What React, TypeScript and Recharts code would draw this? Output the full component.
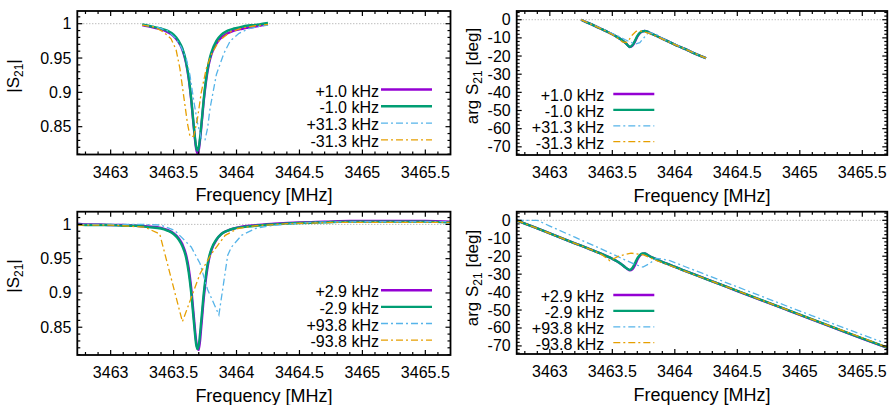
import React from "react"
import { LineChart, Line, XAxis, YAxis, ReferenceLine } from "recharts"

const FONT = "'Liberation Sans', Arial, Helvetica, sans-serif"

const INK = "#000000"
const PURPLE = "#9400d3"
const GREEN = "#009e73"
const BLUE = "#56b4e9"
const ORANGE = "#e69f00"
const GRID = "#a0a0a0"
const DASHDOT = "7 3 2 3"

// axes
const freqDomain = [3462.735, 3465.7]
const freqMajorTicks = [3463, 3463.5, 3464, 3464.5, 3465, 3465.5]
const magDomain = [0.8095, 1.0185]
const magMajorTicks = [0.85, 0.9, 0.95, 1]
const phaseDomain = [-74.5, 4.8]
const phaseMajorTicks = [-70, -60, -50, -40, -30, -20, -10, 0]

const topLabels = ["+1.0 kHz", "-1.0 kHz", "+31.3 kHz", "-31.3 kHz"]
const bottomLabels = ["+2.9 kHz", "-2.9 kHz", "+93.8 kHz", "-93.8 kHz"]

// ---- top row: narrow sweep ----
const freqTopSolid = [3463.25, 3463.3, 3463.35, 3463.4, 3463.45, 3463.5, 3463.54, 3463.57, 3463.6, 3463.62, 3463.64, 3463.66, 3463.68, 3463.69, 3463.7, 3463.72, 3463.74, 3463.76, 3463.78, 3463.8, 3463.84, 3463.88, 3463.93, 3463.98, 3464.03, 3464.08, 3464.13, 3464.18, 3464.25]
const magTopPlus1 = [0.998, 0.996, 0.994, 0.992, 0.988, 0.982, 0.973, 0.962, 0.942, 0.92, 0.889, 0.85, 0.817, 0.811, 0.816, 0.849, 0.888, 0.919, 0.941, 0.955, 0.971, 0.98, 0.986, 0.99, 0.992, 0.994, 0.995, 0.997, 0.999]
const magTopMinus1 = [0.999, 0.997, 0.995, 0.993, 0.99, 0.984, 0.975, 0.964, 0.944, 0.922, 0.891, 0.852, 0.82, 0.815, 0.82, 0.852, 0.891, 0.922, 0.944, 0.958, 0.975, 0.984, 0.99, 0.993, 0.995, 0.997, 0.998, 0.999, 1.001]
const phaseTopPlus1 = [0, -1.6, -3.1, -4.7, -6.3, -8.0, -9.6, -10.9, -12.5, -13.8, -15.0, -14.4, -12.2, -10.8, -9.4, -7.4, -6.5, -6.2, -6.6, -7.2, -8.5, -9.8, -11.4, -13.0, -14.6, -16.1, -17.7, -19.2, -21.2]
const phaseTopMinus1 = [0, -1.6, -3.1, -4.7, -6.3, -8.0, -9.6, -10.9, -12.5, -13.8, -15.0, -14.1, -11.8, -10.3, -9.0, -7.2, -6.4, -6.2, -6.6, -7.2, -8.5, -9.8, -11.4, -13.0, -14.6, -16.1, -17.7, -19.2, -21.2]

const freqTopPlus31 = [3463.25, 3463.35, 3463.45, 3463.52, 3463.56, 3463.6, 3463.63, 3463.66, 3463.69, 3463.72, 3463.75, 3463.77, 3463.79, 3463.84, 3463.9, 3463.95, 3464.02, 3464.1, 3464.18, 3464.25]
const magTopPlus31 = [0.998, 0.996, 0.99, 0.978, 0.966, 0.95, 0.925, 0.888, 0.855, 0.833, 0.831, 0.848, 0.877, 0.926, 0.957, 0.975, 0.986, 0.993, 0.996, 0.998]
const phaseTopPlus31 = [0, -3.0, -6.0, -8.2, -9.5, -10.9, -11.9, -12.8, -13.3, -12.6, -10.2, -8.4, -7.2, -7.6, -10.3, -11.9, -14.1, -16.6, -19.1, -21.2]

const freqTopMinus31 = [3463.25, 3463.35, 3463.42, 3463.48, 3463.52, 3463.55, 3463.58, 3463.61, 3463.63, 3463.66, 3463.69, 3463.72, 3463.76, 3463.8, 3463.86, 3463.95, 3464.05, 3464.15, 3464.25]
const magTopMinus31 = [0.998, 0.995, 0.988, 0.978, 0.962, 0.935, 0.895, 0.855, 0.836, 0.836, 0.862, 0.9, 0.935, 0.955, 0.975, 0.988, 0.994, 0.997, 0.999]
const phaseTopMinus31 = [0, -3.1, -5.3, -7.4, -9.0, -10.5, -12.2, -12.6, -11.4, -8.4, -6.4, -6.1, -6.8, -7.6, -9.3, -12.2, -15.2, -18.2, -21.2]

// ---- bottom row: wide sweep ----
const freqBotSolid = [3462.735, 3462.8, 3462.9, 3463.0, 3463.1, 3463.2, 3463.3, 3463.4, 3463.45, 3463.5, 3463.54, 3463.57, 3463.6, 3463.62, 3463.64, 3463.66, 3463.68, 3463.69, 3463.7, 3463.72, 3463.74, 3463.76, 3463.78, 3463.8, 3463.84, 3463.88, 3463.93, 3463.98, 3464.05, 3464.15, 3464.3, 3464.5, 3464.7, 3464.9, 3465.1, 3465.3, 3465.5, 3465.7]
const magBotPlus29 = [1.001, 1.0, 1.0, 0.999, 0.999, 0.998, 0.997, 0.995, 0.992, 0.987, 0.98, 0.971, 0.955, 0.936, 0.907, 0.867, 0.829, 0.819, 0.817, 0.851, 0.893, 0.925, 0.948, 0.962, 0.977, 0.986, 0.991, 0.994, 0.997, 0.999, 1.001, 1.003, 1.004, 1.005, 1.005, 1.005, 1.005, 1.004]
const magBotMinus29 = [1.0, 0.999, 0.999, 0.999, 0.998, 0.998, 0.996, 0.994, 0.991, 0.986, 0.978, 0.968, 0.951, 0.93, 0.9, 0.86, 0.824, 0.818, 0.824, 0.86, 0.9, 0.93, 0.951, 0.964, 0.978, 0.986, 0.991, 0.994, 0.996, 0.998, 1.0, 1.002, 1.003, 1.004, 1.004, 1.004, 1.004, 1.003]
const phaseBotPlus29 = [0, -1.8, -4.5, -7.3, -10.0, -12.8, -15.5, -18.3, -19.8, -21.4, -22.9, -24.3, -26.0, -27.1, -27.9, -27.3, -25.2, -23.6, -22.0, -19.8, -18.7, -18.5, -19.2, -20.0, -21.3, -22.6, -24.0, -25.4, -27.3, -30.0, -34.0, -39.4, -44.7, -50.0, -55.3, -60.6, -65.9, -71.1]
const phaseBotMinus29 = [0, -1.8, -4.5, -7.3, -10.0, -12.8, -15.5, -18.3, -19.8, -21.4, -22.9, -24.3, -26.0, -27.0, -27.6, -26.6, -24.0, -22.6, -21.2, -19.4, -18.5, -18.5, -19.2, -20.0, -21.3, -22.6, -24.0, -25.4, -27.3, -30.0, -34.0, -39.3, -44.6, -49.9, -55.2, -60.5, -65.8, -71.0]

const freqBotMagPlus94 = [3462.735, 3463.0, 3463.25, 3463.4, 3463.51, 3463.64, 3463.71, 3463.77, 3463.86, 3463.93, 3463.96, 3464.04, 3464.15, 3464.3, 3464.6, 3465.0, 3465.4, 3465.7]
const magBotPlus94 = [1.0, 1.0, 1.0, 0.999, 0.991, 0.967, 0.943, 0.905, 0.868, 0.955, 0.967, 0.984, 0.994, 0.999, 1.003, 1.004, 1.004, 1.004]
const freqBotMagMinus94 = [3462.735, 3463.0, 3463.27, 3463.39, 3463.57, 3463.71, 3463.8, 3463.91, 3464.01, 3464.15, 3464.4, 3464.8, 3465.2, 3465.7]
const magBotMinus94 = [0.999, 0.999, 0.996, 0.986, 0.858, 0.928, 0.957, 0.984, 0.994, 0.998, 1.001, 1.003, 1.003, 1.003]

const freqBotPhasePlus94 = [3462.735, 3462.9, 3463.0, 3463.2, 3463.4, 3463.5, 3463.6, 3463.68, 3463.745, 3463.8, 3463.85, 3463.9, 3463.96, 3464.1, 3464.3, 3464.5, 3464.7, 3464.9, 3465.1, 3465.3, 3465.5, 3465.65]
const phaseBotPlus94 = [0, 0, -3.2, -9.4, -15.6, -18.8, -22.0, -24.5, -26.1, -24.0, -21.2, -21.6, -22.5, -26.3, -31.7, -37.1, -42.5, -47.9, -53.2, -58.5, -63.8, -67.6]
const freqBotPhaseMinus94 = [3462.735, 3463.0, 3463.2, 3463.35, 3463.42, 3463.48, 3463.55, 3463.65, 3463.75, 3463.85, 3463.95, 3464.1, 3464.3, 3464.7, 3465.1, 3465.5, 3465.7]
const phaseBotMinus94 = [0, -7.3, -12.8, -16.9, -19.3, -22.5, -20.0, -18.3, -19.3, -22.3, -24.9, -28.8, -34.0, -44.6, -55.2, -65.5, -70.8]

const pts = (xs: number[], ys: number[]) => xs.map((x, i) => ({ x, y: ys[i] }))

const stepTicks = (lo: number, hi: number, step: number) => {
  const out: number[] = []
  for (let k = Math.ceil(lo / step + 1e-9); k * step < hi - 1e-9; k++) {
    out.push(Math.round(k * step * 1000) / 1000)
  }
  return out
}
const isMajor = (v: number, majors: number[]) => majors.some((m) => Math.abs(m - v) < 1e-6)

const MAJOR = 5
const MINOR = 3
const TICK_STROKE = 1.2
const FRAME_STROKE = 1.8

function BottomLabel({ x, y, payload }: any) {
  if (!isMajor(payload.value, freqMajorTicks)) return <g />
  return (
    <text x={x} y={y + 23} textAnchor="middle" fontFamily={FONT} fontSize={16} fill={INK}>
      {payload.value}
    </text>
  )
}

function LeftLabel({ x, y, payload, majors }: any) {
  if (!isMajor(payload.value, majors)) return <g />
  return (
    <text x={x - 6} y={y + 5.5} textAnchor="end" fontFamily={FONT} fontSize={16} fill={INK}>
      {payload.value}
    </text>
  )
}

type Series = { name: string; color: string; dashed: boolean; points: { x: number; y: number }[] }

interface PanelProps {
  left: number
  top: number
  width: number
  height: number
  plot: { left: number; right: number; top: number; bottom: number }
  yDomain: number[]
  yMajor: number[]
  yStep: number
  refY: number
  series: Series[]
  yTitle: { pre: string; post: string; x: number; y: number }
  legend: { textRight: number; x1: number; x2: number; y0: number; dy: number }
}

function Panel({ left, top, width, height, plot, yDomain, yMajor, yStep, refY, series, yTitle, legend }: PanelProps) {
  const xTicks = stepTicks(freqDomain[0], freqDomain[1], 0.1)
  const yTicks = stepTicks(yDomain[0], yDomain[1], yStep)
  const [x0, x1] = freqDomain
  const [y0, y1] = yDomain
  // same linear mapping as the chart's plot box, used for the frame's tick marks
  const px = (v: number) => plot.left + ((v - x0) / (x1 - x0)) * (plot.right - plot.left)
  const py = (v: number) => plot.bottom - ((v - y0) / (y1 - y0)) * (plot.bottom - plot.top)

  return (
    <div style={{ position: "absolute", left, top, width, height }}>
      <LineChart
        width={width}
        height={height}
        margin={{ top: plot.top, right: width - plot.right, bottom: 0, left: 0 }}
      >
        <XAxis
          type="number"
          dataKey="x"
          domain={freqDomain}
          allowDataOverflow
          ticks={xTicks}
          interval={0}
          height={height - plot.bottom}
          tickSize={0}
          tickMargin={0}
          tickLine={false}
          axisLine={false}
          tick={(p: any) => <BottomLabel {...p} />}
        />
        <YAxis
          type="number"
          domain={yDomain}
          allowDataOverflow
          ticks={yTicks}
          interval={0}
          width={plot.left}
          tickSize={0}
          tickMargin={0}
          tickLine={false}
          axisLine={false}
          tick={(p: any) => <LeftLabel {...p} majors={yMajor} />}
        />
        <ReferenceLine y={refY} stroke={GRID} strokeWidth={1} strokeDasharray="1 2" ifOverflow="visible" />
        {series.map((s) => (
          <Line
            key={s.name}
            data={s.points}
            dataKey="y"
            type={s.dashed ? "linear" : "monotone"}
            stroke={s.color}
            strokeWidth={s.dashed ? 1.3 : 2.4}
            strokeDasharray={s.dashed ? DASHDOT : undefined}
            dot={false}
            activeDot={false}
            isAnimationActive={false}
          />
        ))}
      </LineChart>
      <svg
        width={width}
        height={height}
        style={{ position: "absolute", left: 0, top: 0, overflow: "visible", pointerEvents: "none" }}
        fontFamily={FONT}
      >
        {/* frame with inward ticks on all four sides */}
        <g stroke={INK} strokeWidth={TICK_STROKE}>
          {xTicks.map((t) => {
            const len = isMajor(t, freqMajorTicks) ? MAJOR : MINOR
            const x = px(t)
            return (
              <g key={`x${t}`}>
                <line x1={x} x2={x} y1={plot.bottom} y2={plot.bottom - len} />
                <line x1={x} x2={x} y1={plot.top} y2={plot.top + len} />
              </g>
            )
          })}
          {yTicks.map((t) => {
            const len = isMajor(t, yMajor) ? MAJOR : MINOR
            const y = py(t)
            return (
              <g key={`y${t}`}>
                <line x1={plot.left} x2={plot.left + len} y1={y} y2={y} />
                <line x1={plot.right} x2={plot.right - len} y1={y} y2={y} />
              </g>
            )
          })}
        </g>
        <rect
          x={plot.left}
          y={plot.top}
          width={plot.right - plot.left}
          height={plot.bottom - plot.top}
          fill="none"
          stroke={INK}
          strokeWidth={FRAME_STROKE}
        />
        <text x={(plot.left + plot.right) / 2} y={plot.bottom + 46.5} textAnchor="middle" fontSize={18} fill={INK}>
          Frequency [MHz]
        </text>
        <text
          transform={`translate(${yTitle.x},${yTitle.y}) rotate(-90)`}
          textAnchor="middle"
          fontSize={17}
          fill={INK}
        >
          {yTitle.pre}
          <tspan dy={4} fontSize={12}>21</tspan>
          <tspan dy={-4}>{yTitle.post}</tspan>
        </text>
        {series.map((s, i) => {
          const ly = legend.y0 + i * legend.dy
          return (
            <g key={s.name}>
              <text x={legend.textRight} y={ly + 7} textAnchor="end" fontSize={16} fill={INK}>
                {s.name}
              </text>
              <line
                x1={legend.x1}
                x2={legend.x2}
                y1={ly}
                y2={ly}
                stroke={s.color}
                strokeWidth={s.dashed ? 1.3 : 2.4}
                strokeDasharray={s.dashed ? DASHDOT : undefined}
              />
            </g>
          )
        })}
      </svg>
    </div>
  )
}

const topMag: Series[] = [
  { name: topLabels[0], color: PURPLE, dashed: false, points: pts(freqTopSolid, magTopPlus1) },
  { name: topLabels[1], color: GREEN, dashed: false, points: pts(freqTopSolid, magTopMinus1) },
  { name: topLabels[2], color: BLUE, dashed: true, points: pts(freqTopPlus31, magTopPlus31) },
  { name: topLabels[3], color: ORANGE, dashed: true, points: pts(freqTopMinus31, magTopMinus31) },
]
const topPhase: Series[] = [
  { name: topLabels[0], color: PURPLE, dashed: false, points: pts(freqTopSolid, phaseTopPlus1) },
  { name: topLabels[1], color: GREEN, dashed: false, points: pts(freqTopSolid, phaseTopMinus1) },
  { name: topLabels[2], color: BLUE, dashed: true, points: pts(freqTopPlus31, phaseTopPlus31) },
  { name: topLabels[3], color: ORANGE, dashed: true, points: pts(freqTopMinus31, phaseTopMinus31) },
]
const botMag: Series[] = [
  { name: bottomLabels[0], color: PURPLE, dashed: false, points: pts(freqBotSolid, magBotPlus29) },
  { name: bottomLabels[1], color: GREEN, dashed: false, points: pts(freqBotSolid, magBotMinus29) },
  { name: bottomLabels[2], color: BLUE, dashed: true, points: pts(freqBotMagPlus94, magBotPlus94) },
  { name: bottomLabels[3], color: ORANGE, dashed: true, points: pts(freqBotMagMinus94, magBotMinus94) },
]
const botPhase: Series[] = [
  { name: bottomLabels[0], color: PURPLE, dashed: false, points: pts(freqBotSolid, phaseBotPlus29) },
  { name: bottomLabels[1], color: GREEN, dashed: false, points: pts(freqBotSolid, phaseBotMinus29) },
  { name: bottomLabels[2], color: BLUE, dashed: true, points: pts(freqBotPhasePlus94, phaseBotPlus94) },
  { name: bottomLabels[3], color: ORANGE, dashed: true, points: pts(freqBotPhaseMinus94, phaseBotMinus94) },
]

export default function App() {
  return (
    <div style={{ position: "absolute", left: 0, top: 0, width: 889, height: 405, background: "#ffffff", overflow: "hidden" }}>
      <Panel
        left={0}
        top={0}
        width={452}
        height={200}
        plot={{ left: 77.3, right: 450.5, top: 11, bottom: 154.5 }}
        yDomain={magDomain}
        yMajor={magMajorTicks}
        yStep={0.01}
        refY={1}
        series={topMag}
        yTitle={{ pre: "|S", post: "|", x: 18.5, y: 76 }}
        legend={{ textRight: 379, x1: 381, x2: 432, y0: 89.5, dy: 16.8 }}
      />
      <Panel
        left={445}
        top={0}
        width={444}
        height={200}
        plot={{ left: 71.7, right: 442.3, top: 11, bottom: 155 }}
        yDomain={phaseDomain}
        yMajor={phaseMajorTicks}
        yStep={2}
        refY={0}
        series={topPhase}
        yTitle={{ pre: "arg S", post: " [deg]", x: 33, y: 76 }}
        legend={{ textRight: 159.3, x1: 168.3, x2: 209.3, y0: 94, dy: 15.9 }}
      />
      <Panel
        left={0}
        top={200}
        width={452}
        height={205}
        plot={{ left: 77.3, right: 450.5, top: 11.7, bottom: 155 }}
        yDomain={magDomain}
        yMajor={magMajorTicks}
        yStep={0.01}
        refY={1}
        series={botMag}
        yTitle={{ pre: "|S", post: "|", x: 18.5, y: 76 }}
        legend={{ textRight: 379, x1: 381, x2: 432, y0: 90.3, dy: 16.6 }}
      />
      <Panel
        left={445}
        top={200}
        width={444}
        height={205}
        plot={{ left: 71.7, right: 442.3, top: 11.7, bottom: 154 }}
        yDomain={phaseDomain}
        yMajor={phaseMajorTicks}
        yStep={2}
        refY={0}
        series={botPhase}
        yTitle={{ pre: "arg S", post: " [deg]", x: 33, y: 78 }}
        legend={{ textRight: 159.3, x1: 168.3, x2: 209.3, y0: 95, dy: 15.9 }}
      />
    </div>
  )
}
